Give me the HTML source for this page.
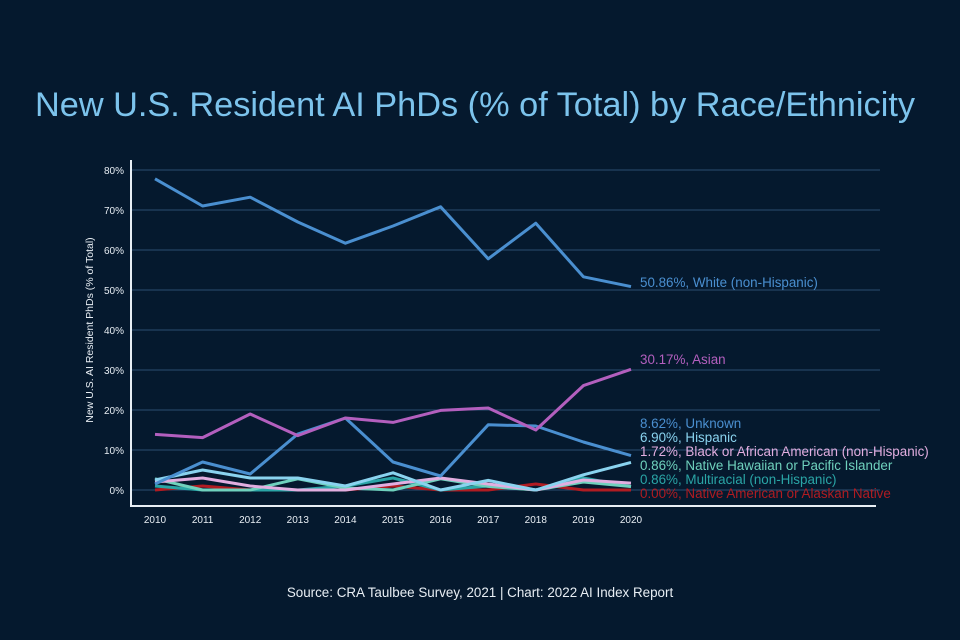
<!DOCTYPE html>
<html><head><meta charset="utf-8"><style>
body{margin:0;background:#05192e;}
svg{display:block;font-family:"Liberation Sans",sans-serif;}
</style></head><body>
<svg id="chart" width="960" height="640" viewBox="0 0 960 640">
<rect width="960" height="640" fill="#05192e"/>
<text x="475" y="116" text-anchor="middle" font-size="34.3" fill="#7cc3ec">New U.S. Resident AI PhDs (% of Total) by Race/Ethnicity</text>
<text x="93" y="330" transform="rotate(-90 93 330)" text-anchor="middle" font-size="10.5" fill="#e8eef4">New U.S. AI Resident PhDs (% of Total)</text>
<text x="480" y="597" text-anchor="middle" font-size="13.4" fill="#e8eef4">Source: CRA Taulbee Survey, 2021 | Chart: 2022 AI Index Report</text>
<g id="grid"></g><g id="series"></g>
</svg>
<script>
const years=[2010,2011,2012,2013,2014,2015,2016,2017,2018,2019,2020];
const yTicks=[0,10,20,30,40,50,60,70,80];
const seriesNames=["White (non-Hispanic)","Asian","Unknown","Hispanic","Black or African American (non-Hispanic)","Native Hawaiian or Pacific Islander","Multiracial (non-Hispanic)","Native American or Alaskan Native"];
const white=[77.8,71,73.2,67,61.7,66,70.8,57.8,66.7,53.3,50.86];
const asian=[13.9,13.1,19,13.6,18,16.9,19.9,20.5,15,26.1,30.17];
const unknown=[1.5,7,4,14,18,7,3.5,16.3,16,12,8.62];
const hispanic=[2.5,5,3,3,1,4.3,0,2.4,0,3.8,6.9];
const black=[2,3,1,0,0,1.5,3,1.5,0,2.5,1.72];
const nhpi=[2.8,0,0,2.8,0.5,0,2.8,0.9,0,2,0.86];
const multi=[1,0,0,0,1,3,0,1,0,3,0.86];
const native=[0,1,0,0,0,1,0,0,1.5,0,0];
const colors=["#4a8fd0","#b35fbe","#4a8fd0","#8ad3ef","#e2aee0","#6fd1bd","#2aa5a6","#b01c22"];
const labelYs=[283,360,424,438,452,466,480,494];
const all=[white,asian,unknown,hispanic,black,nhpi,multi,native];
const X=y=>155+(y-2010)*47.6, Y=v=>490-v*4.0;
const NS="http://www.w3.org/2000/svg";
const g=document.getElementById('grid'), s=document.getElementById('series');
function mk(t,a,p){const e=document.createElementNS(NS,t);for(const k in a)e.setAttribute(k,a[k]);p.appendChild(e);return e;}
yTicks.forEach(t=>{
 const l=mk('line',{x1:131,x2:880,y1:Y(t),y2:Y(t),stroke:'#2a4d70','stroke-width':1},g);
 
 
 const tx=mk('text',{x:124,y:Y(t)+4,'text-anchor':'end','font-size':10,fill:'#e8eef4'},g);tx.textContent=t+'%';
 
 
});
years.forEach(yr=>{
 const tx=mk('text',{x:X(yr),y:523,'text-anchor':'middle','font-size':10,fill:'#e8eef4'},g);tx.textContent=yr;
 
 
});
const ya=mk('line',{x1:131,x2:131,y1:160,y2:507,stroke:'#e8eef4','stroke-width':2},g);


const xa=mk('line',{x1:130,x2:876,y1:506,y2:506,stroke:'#e8eef4','stroke-width':2},g);


for(let i=all.length-1;i>=0;i--){
 const d=all[i];
 const p=mk('polyline',{points:d.map((v,j)=>X(years[j])+','+Y(v)).join(' '),fill:'none',stroke:colors[i],'stroke-width':3,'stroke-linejoin':'round'},s);
 
 
}
all.forEach((d,i)=>{
 const tx=mk('text',{x:640,y:labelYs[i]+4,'font-size':13.4,fill:colors[i]},s);
 tx.textContent=d[d.length-1].toFixed(2)+'%, '+seriesNames[i];
 
 
});
</script>
</body></html>
